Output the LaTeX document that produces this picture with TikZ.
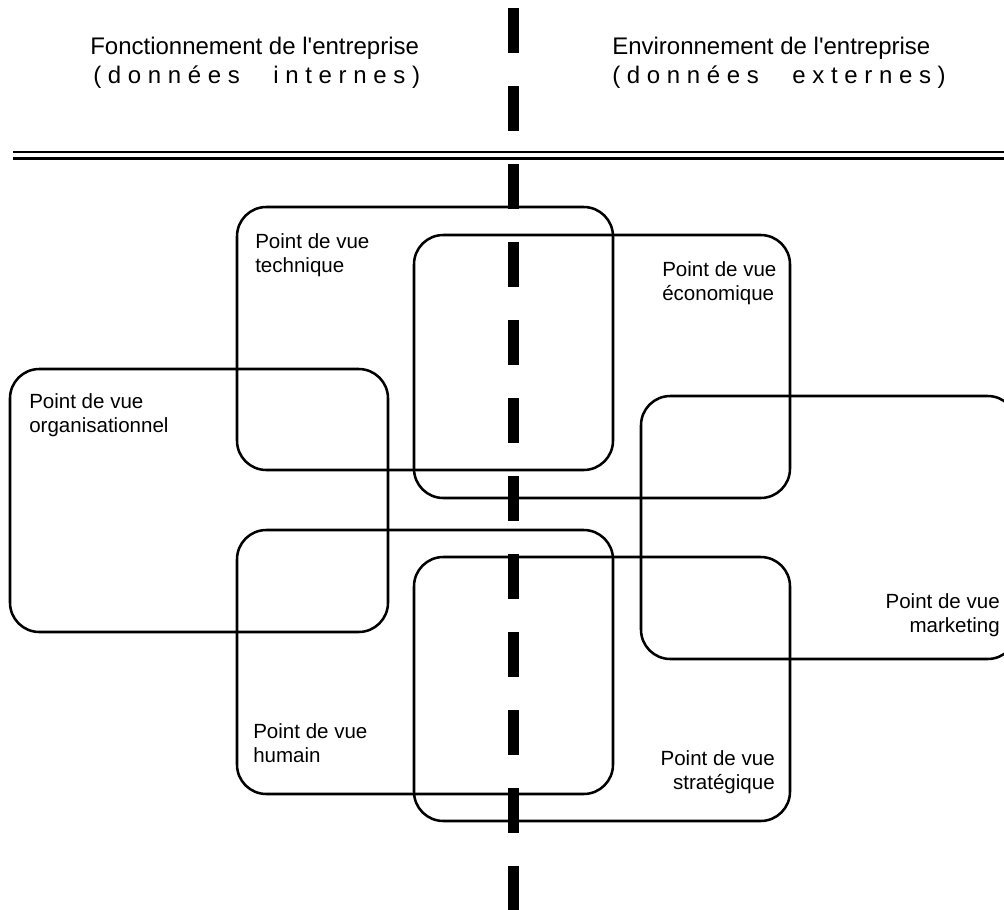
\documentclass[tikz,border=0pt]{standalone}
\usepackage{fontspec}
\setmainfont{Liberation Sans}
\begin{document}
\begin{tikzpicture}[x=0.75pt,y=-0.75pt,
  pbox/.style={draw=black, line width=1.9pt, rounded corners=22pt},
  lbl/.style={inner sep=0pt, font=\fontsize{15.4pt}{18pt}\selectfont},
  hdr/.style={inner sep=0pt, font=\fontsize{18pt}{21.75pt}\selectfont, anchor=base west},
  rule/.style={draw=black},
  axis/.style={draw=black, line width=8.25pt, dash pattern=on 33.75pt off 24.75pt}]
\useasboundingbox (0,0) rectangle (1004,910);

% headers
\node[hdr] (h1) at (90,54) {Fonctionnement de l\textquotesingle entreprise};
\node[hdr] (h2) at (93,83) {( d o n n é e s \ \ \ \ i n t e r n e s )};
\node[hdr] (h3) at (612,54) {Environnement de l\textquotesingle entreprise};
\node[hdr] (h4) at (612,83) {( d o n n é e s \ \ \ \ e x t e r n e s )};

% double rule
\coordinate (r1a) at (13,152);
\coordinate (r1b) at (1004,152);
\coordinate (r2a) at (13,158.5);
\coordinate (r2b) at (1004,158.5);
\draw[rule, line width=1.5pt] (r1a) -- (r1b);
\draw[rule, line width=2.25pt] (r2a) -- (r2b);

% boxes
\draw[pbox] (237,207) rectangle (613,470);
\draw[pbox] (414,235) rectangle (790,498);
\draw[pbox] (10,369) rectangle (388,632);
\draw[pbox] (641,396) rectangle (1017,659);
\draw[pbox] (237,530) rectangle (613,794);
\draw[pbox] (414,557) rectangle (790,821);

% labels (anchor base = baseline of the last line)
\node[lbl, anchor=base west, align=left] (tech) at (255,272) {Point de vue\\technique};
\node[lbl, anchor=base west, align=left] (eco) at (662,300) {Point de vue\\économique};
\node[lbl, anchor=base west, align=left] (org) at (29,432) {Point de vue\\organisationnel};
\node[lbl, anchor=base east, align=right] (mkt) at (1000,632) {Point de vue\\marketing};
\node[lbl, anchor=base west, align=left] (hum) at (253,762) {Point de vue\\humain};
\node[lbl, anchor=base east, align=right] (strat) at (775,789) {Point de vue\\stratégique};

% central dashed axis
\coordinate (axtop) at (513.5,8);
\coordinate (axbot) at (513.5,915);
\draw[axis] (axtop) -- (axbot);
\end{tikzpicture}
\end{document}
